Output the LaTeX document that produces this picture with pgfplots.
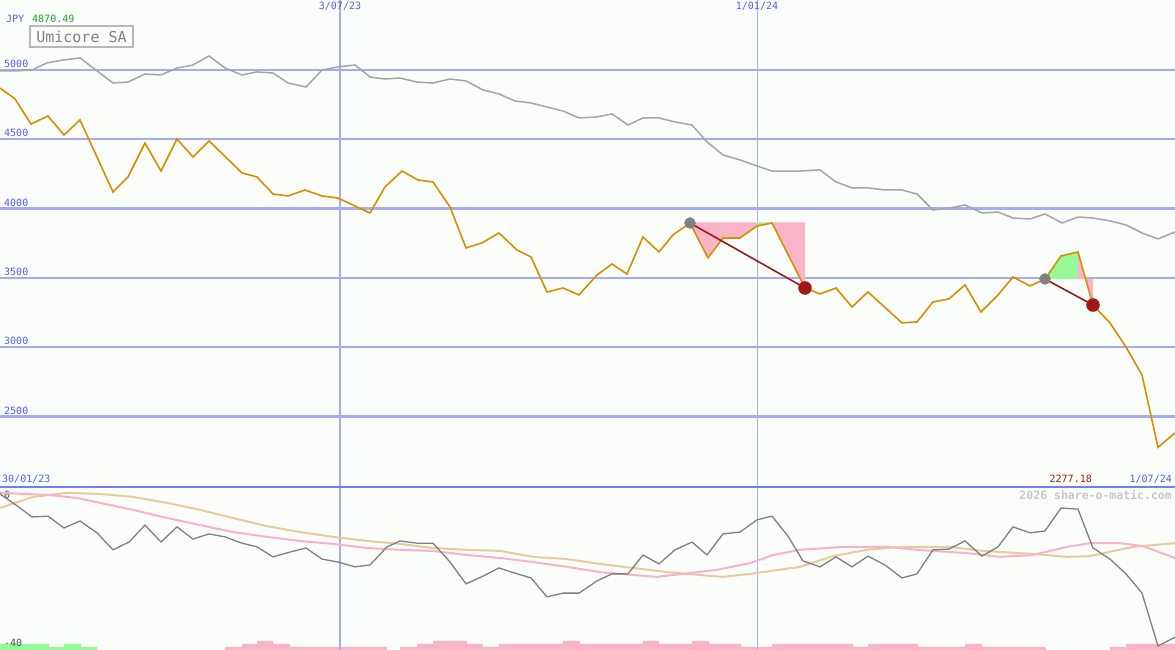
\documentclass[border=0pt]{standalone}
\usepackage{pgfplots}
\pgfplotsset{compat=1.18}
\usepgfplotslibrary{fillbetween}
\usepackage{pgfplotstable}
\usepackage{fontspec}
\setmainfont{DejaVu Sans Mono}
\definecolor{bgc}{RGB}{251,253,251}
\definecolor{gridc}{RGB}{164,172,240}
\definecolor{sepc}{RGB}{112,128,240}
\definecolor{tickc}{RGB}{80,96,240}
\definecolor{orangec}{RGB}{216,142,0}
\definecolor{grayc}{RGB}{165,165,165}
\definecolor{dgray}{RGB}{128,128,128}
\definecolor{pinkf}{RGB}{250,180,200}
\definecolor{greenf}{RGB}{150,248,150}
\definecolor{redc}{RGB}{160,24,24}
\definecolor{pinkl}{RGB}{248,178,202}
\definecolor{tanl}{RGB}{228,204,156}
\definecolor{wm}{RGB}{200,200,200}
\definecolor{jpyg}{RGB}{32,160,32}
\definecolor{lowlab}{RGB}{80,80,80}

\pgfplotstableread{
x y
0 4870
15 4791
31 4610
48 4668
64 4531
80 4639
113 4120
128 4228
145 4473
161 4271
177 4502
193 4372
209 4488
242 4257
257 4228
273 4105
288 4091
305 4134
322 4091
338 4076
370 3968
385 4156
402 4271
418 4206
433 4192
450 4012
466 3716
482 3752
499 3824
517 3701
531 3651
547 3398
563 3427
579 3377
597 3521
612 3600
627 3528
643 3795
659 3687
673 3810
690 3896
708 3644
723 3788
740 3788
757 3874
772 3896
805 3427
820 3384
836 3427
852 3290
868 3398
902 3175
917 3182
933 3326
949 3348
965 3449
981 3254
998 3377
1013 3506
1030 3442
1045 3492
1061 3658
1078 3687
1093 3304
1110 3175
1126 3001
1142 2799
1158 2277
1175 2381
}\orangedata

\pgfplotstableread{
x y
0 4993
16 4993
32 5000
47 5051
63 5072
80 5087
113 4906
128 4913
145 4971
161 4964
177 5014
193 5036
209 5101
225 5014
242 4964
257 4986
273 4978
288 4906
306 4877
322 5000
338 5022
355 5036
370 4949
385 4935
400 4942
417 4913
433 4906
450 4935
466 4921
483 4856
499 4827
515 4776
531 4762
547 4733
563 4704
579 4654
597 4661
612 4683
628 4603
643 4654
659 4654
675 4625
692 4603
707 4481
723 4387
740 4351
757 4307
772 4271
800 4271
820 4279
836 4192
852 4149
868 4149
885 4134
902 4134
917 4105
933 3990
950 4004
965 4026
982 3968
998 3975
1013 3932
1030 3925
1045 3961
1062 3896
1078 3939
1093 3932
1110 3911
1126 3882
1142 3824
1158 3781
1175 3831
}\graydata

\pgfplotstableread{
x y
0 1.9
16 -1.1
32 -4.3
48 -4.1
64 -7.3
80 -5.4
97 -8.6
113 -13.2
129 -11.1
145 -6.5
161 -11.1
177 -7.0
193 -10.3
209 -8.9
225 -9.7
242 -11.4
257 -12.4
273 -15.1
290 -13.8
306 -12.7
322 -15.7
338 -16.5
355 -17.8
370 -17.3
387 -12.4
400 -10.8
417 -11.4
433 -11.4
450 -16.5
466 -22.4
483 -20.3
499 -18.1
515 -19.5
531 -20.8
547 -25.9
563 -24.9
579 -24.9
597 -21.6
612 -19.7
628 -19.7
643 -14.6
659 -17.0
675 -13.2
692 -11.1
707 -14.6
723 -8.9
740 -8.4
757 -5.1
772 -4.1
788 -9.5
803 -16.2
820 -17.8
836 -15.1
852 -17.8
868 -14.9
885 -17.3
902 -20.8
917 -19.7
933 -13.2
949 -13.0
965 -10.8
982 -14.9
998 -12.4
1013 -7.0
1030 -8.6
1045 -8.1
1061 -1.9
1078 -2.2
1093 -12.7
1110 -15.7
1126 -19.7
1142 -24.9
1158 -39.2
1175 -36.8
}\momdata

\pgfplotstableread{
x y
0 2.2
50 1.6
77 0.8
100 -0.5
133 -2.4
167 -4.6
200 -6.5
233 -8.4
267 -9.7
300 -10.8
333 -11.6
367 -12.7
400 -13.2
433 -13.5
467 -14.6
500 -15.4
533 -16.5
567 -17.8
600 -19.2
633 -20.0
657 -20.5
683 -19.7
717 -18.6
750 -16.8
773 -14.6
800 -13.2
843 -12.4
887 -12.4
917 -13.2
967 -14.1
1000 -15.1
1033 -14.6
1067 -12.4
1090 -11.4
1120 -11.4
1143 -12.2
1175 -15.4
}\pinkdata

\pgfplotstableread{
x y
0 -1.9
33 1.1
67 2.2
100 1.9
133 1.1
167 -0.5
200 -2.4
233 -4.6
267 -6.8
300 -8.4
333 -9.7
367 -10.8
400 -11.6
433 -12.7
467 -13.2
500 -13.5
533 -15.1
567 -15.7
600 -17.0
633 -18.1
667 -19.2
700 -20.0
723 -20.5
750 -19.7
800 -17.8
833 -14.9
867 -13.2
900 -12.4
950 -12.4
983 -13.5
1033 -14.3
1067 -15.1
1090 -14.9
1133 -12.4
1175 -11.4
}\tandata

\begin{document}
\begin{tikzpicture}

% histogram bars (lower panel background)
\begin{axis}[at={(0,0)}, anchor=south west, width=1175bp, height=163bp, scale only axis,
  xmin=0, xmax=1175, ymin=0, ymax=54.33,
  axis line style={draw=none}, xtick=\empty, ytick=\empty,
  axis background/.style={fill=bgc}]
\addplot[const plot, fill=greenf, draw=none] coordinates {(0,2) (49,1) (64,2) (81,1) (97,1)} \closedcycle;
\addplot[const plot, fill=pinkf, draw=none] coordinates {(225,1) (242,2) (257,3) (273,2) (290,1) (387,0) (400,1) (417,2) (433,3) (467,2) (483,1) (499,2) (563,3) (580,2) (643,3) (659,2) (692,3) (709,2) (741,1) (772,2) (853,1) (868,2) (918,1) (965,2) (982,1) (1046,0) (1110,1) (1126,2) (1175,2)} \closedcycle;
\end{axis}

% lower panel
\begin{axis}[at={(0,0)}, anchor=south west, width=1175bp, height=163bp, scale only axis,
  xmin=0, xmax=1175, ymin=-40.27, ymax=3.78,
  axis line style={draw=none}, major tick length=0,
  xtick={757}, xticklabels={}, xmajorgrids,
  major grid style={gridc, line width=1bp},
  extra x ticks={340}, extra x tick labels={},
  extra tick style={grid=major, major grid style={gridc, line width=2.3bp}},
  ytick={0,-40},
  yticklabel style={anchor=south west, inner sep=2bp, xshift=2bp, text=lowlab, font=\fontsize{10bp}{12bp}\selectfont},
  /pgf/number format/assume math mode=true]
\addplot[tanl, line width=2bp] table[x=x,y=y] {\tandata};
\addplot[pinkl, line width=2bp] table[x=x,y=y] {\pinkdata};
\addplot[dgray, line width=1.3bp] table[x=x,y=y] {\momdata};
\end{axis}
\draw[sepc, line width=2.5bp] (0,163bp) -- (1175bp,163bp);

% upper panel
\begin{axis}[at={(0,163bp)}, anchor=south west, width=1175bp, height=487bp, scale only axis,
  xmin=0, xmax=1175, ymin=1991, ymax=5505,
  axis background/.style={fill=bgc},
  axis line style={draw=none}, major tick length=0,
  xtick={757}, xticklabels={1/01/24}, xmajorgrids,
  xticklabel pos=right,
  xticklabel style={anchor=north, inner sep=2bp, text=tickc, font=\fontsize{10bp}{12bp}\selectfont},
  major grid style={gridc, line width=1bp},
  extra x ticks={340}, extra x tick labels={3/07/23},
  ytick=\empty,
  extra y ticks={2500,3000,3500,4000,4500,5000},
  extra tick style={grid=major, major grid style={gridc, line width=2.2bp}},
  yticklabel style={anchor=south west, inner sep=2bp, xshift=2bp, text=tickc, font=\fontsize{10bp}{12bp}\selectfont},
  scaled y ticks=false,
  /pgf/number format/1000 sep={},
  /pgf/number format/assume math mode=true]
\addplot[draw=none, name path=orange, forget plot] table[x=x,y=y] {\orangedata};
\addplot[draw=none, name path=lvA, forget plot] coordinates {(690,3900) (805,3900)};
\addplot[draw=none, name path=lvB, forget plot] coordinates {(1045,3492) (1093,3492)};
\addplot[pinkf, draw=none] fill between[of=orange and lvA, soft clip={domain=690:757}];
\addplot[greenf, draw=none] fill between[of=orange and lvA, soft clip={domain=757:772}];
\addplot[pinkf, draw=none] fill between[of=orange and lvA, soft clip={domain=772:805}];
\addplot[greenf, draw=none] fill between[of=orange and lvB, soft clip={domain=1045:1078}];
\addplot[pinkf, draw=none] fill between[of=orange and lvB, soft clip={domain=1078:1093}];
\addplot[grayc, line width=1.5bp] table[x=x,y=y] {\graydata};
\addplot[orangec, line width=1.6bp] table[x=x,y=y] {\orangedata};
\addplot[redc, line width=1.6bp] coordinates {(690,3896) (805,3427)};
\addplot[redc, line width=1.6bp] coordinates {(1045,3492) (1093,3304)};
\addplot[only marks, mark=*, mark size=5.5bp, dgray] coordinates {(690,3896) (1045,3492)};
\addplot[only marks, mark=*, mark size=6.5bp, redc] coordinates {(805,3427) (1093,3304)};
\end{axis}

\node[anchor=base west, inner sep=0, text=tickc, font=\fontsize{10bp}{12bp}\selectfont] at (6bp,627bp) {JPY};
\node[anchor=base west, inner sep=0, text=jpyg, font=\fontsize{10bp}{12bp}\selectfont] at (32bp,627bp) {4870.49};
\node[draw={rgb,255:red,184;green,184;blue,184}, line width=1.5bp, text=dgray, font=\fontsize{15bp}{17bp}\selectfont, minimum width=103bp, minimum height=21bp, inner sep=0] at (81.5bp,613.5bp) {Umicore SA};
\node[anchor=base west, inner sep=0, text=tickc, font=\fontsize{10bp}{12bp}\selectfont] at (2bp,167bp) {30/01/23};
\node[anchor=base east, inner sep=0, text=redc, font=\fontsize{10bp}{12bp}\selectfont] at (1092bp,167bp) {2277.18};
\node[anchor=base east, inner sep=0, text=tickc, font=\fontsize{10bp}{12bp}\selectfont] at (1172bp,167bp) {1/07/24};
\node[anchor=base east, inner sep=0, text=wm, font=\bfseries\fontsize{11.5bp}{13bp}\selectfont] at (1172bp,150bp) {2026 share-o-matic.com};

\pgfresetboundingbox
\path[use as bounding box] (0,0) rectangle (1175bp,650bp);
\end{tikzpicture}
\end{document}
